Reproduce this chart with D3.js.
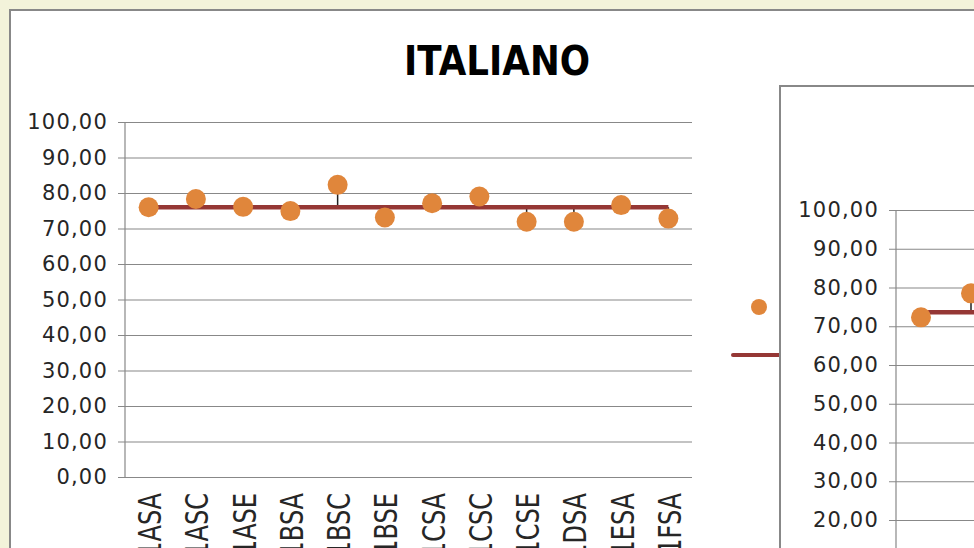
<!DOCTYPE html>
<html>
<head>
<meta charset="utf-8">
<script src="https://cdn.jsdelivr.net/npm/d3@7"></script>
<style>
  html, body { margin: 0; padding: 0; background: #f3f3da; }
  svg { display: block; }
  .tick text { font-family: "DejaVu Sans", sans-serif; fill: #262626; }
</style>
</head>
<body>
<svg id="chart1"></svg>
<script>
// data
let classi = ["1ASA", "1ASC", "1ASE", "1BSA", "1BSC", "1BSE", "1CSA", "1CSC", "1CSE", "1DSA", "1ESA", "1FSA"];
let italiano = [76.0, 78.3, 76.1, 74.9, 82.3, 73.1, 77.1, 79.0, 71.9, 71.9, 76.6, 72.8];
let mediaItaliano = 76.0;

// second chart, only the first points are visible in the picture
let secondaValori = [72.3, 78.5];
let secondaMedia = 73.6;

let yTicks = [0, 10, 20, 30, 40, 50, 60, 70, 80, 90, 100];
let fmt = (d) => d.toFixed(2).replace(".", ",");

let w = 974;
let h = 548;
let orange = "#e0863b";
let red = "#953735";
let gridCol = "#888888";

let svg = d3.select("#chart1").attr("width", w).attr("height", h);

// ---- first panel ----
svg.append("rect")
  .attr("x", 10).attr("y", 10)
  .attr("width", 1100).attr("height", 700)
  .attr("fill", "white")
  .attr("stroke", gridCol)
  .attr("stroke-width", 2);

svg.append("text")
  .attr("x", 497).attr("y", 75)
  .attr("text-anchor", "middle")
  .attr("font-family", "DejaVu Sans, sans-serif")
  .attr("font-weight", "bold")
  .attr("font-size", 41)
  .attr("textLength", 186)
  .attr("lengthAdjust", "spacingAndGlyphs")
  .attr("fill", "#000")
  .text("ITALIANO");

let xScale = d3.scaleBand().domain(classi).range([125, 692]);
let yScale = d3.scaleLinear().domain([0, 100]).range([477, 122]);

function drawY(g, scale, x0, x1) {
  let axis = d3.axisLeft(scale).tickValues(yTicks).tickFormat(fmt).tickSize(-(x1 - x0)).tickPadding(17);
  g.attr("transform", `translate(${x0},0)`).call(axis);
  g.select(".domain").remove();
  g.selectAll(".tick line").attr("stroke", gridCol).attr("stroke-width", 1.2).attr("x1", -7);
  g.selectAll(".tick text").attr("font-size", 21).attr("letter-spacing", 1.2);
  g.append("line")
    .attr("x1", 0).attr("x2", 0)
    .attr("y1", scale(100)).attr("y2", scale.range()[0])
    .attr("stroke", gridCol).attr("stroke-width", 1.2);
}

let yAxisGroup = svg.append("g");
drawY(yAxisGroup, yScale, 125, 692);

let xAxisGroup = svg.append("g")
  .attr("transform", `translate(0, 477)`)
  .call(d3.axisBottom(xScale).tickSize(0).tickPadding(0));
xAxisGroup.select(".domain").remove();
xAxisGroup.selectAll(".tick text")
  .attr("font-size", 24)
  .attr("text-anchor", "end")
  .attr("y", 0)
  .attr("dy", null)
  .attr("transform", "translate(12.5,16) rotate(-90) scale(1,1.35)");

let cx = (c) => xScale(c) + xScale.bandwidth() / 2;

// drop lines to the mean
svg.selectAll(".drop")
  .data(italiano)
  .enter()
  .append("line")
  .attr("class", "drop")
  .attr("x1", (d, i) => cx(classi[i]))
  .attr("x2", (d, i) => cx(classi[i]))
  .attr("y1", (d) => yScale(d))
  .attr("y2", yScale(mediaItaliano))
  .attr("stroke", "#222")
  .attr("stroke-width", 1.5);

svg.append("line")
  .attr("x1", cx(classi[0]))
  .attr("x2", cx(classi[classi.length - 1]))
  .attr("y1", yScale(mediaItaliano))
  .attr("y2", yScale(mediaItaliano))
  .attr("stroke", red)
  .attr("stroke-width", 4.5);

svg.selectAll(".dot")
  .data(italiano)
  .enter()
  .append("circle")
  .attr("class", "dot")
  .attr("cx", (d, i) => cx(classi[i]))
  .attr("cy", (d) => yScale(d))
  .attr("r", 10)
  .attr("fill", orange);

// legend of the first chart (mostly covered by the second panel)
svg.append("circle")
  .attr("cx", 759).attr("cy", 307)
  .attr("r", 8)
  .attr("fill", orange);
svg.append("line")
  .attr("x1", 733).attr("x2", 800)
  .attr("y1", 355).attr("y2", 355)
  .attr("stroke", red)
  .attr("stroke-width", 4)
  .attr("stroke-linecap", "round");

// ---- second panel ----
svg.append("rect")
  .attr("x", 780).attr("y", 86)
  .attr("width", 600).attr("height", 700)
  .attr("fill", "white")
  .attr("stroke", gridCol)
  .attr("stroke-width", 2);

let x2 = d3.scaleBand().domain(classi).range([896, 896 + 12 * 50]);
let y2 = d3.scaleLinear().domain([0, 100]).range([597.5, 210]);

let y2Group = svg.append("g");
drawY(y2Group, y2, 896, 1100);

let cx2 = (c) => x2(c) + x2.bandwidth() / 2;

svg.selectAll(".drop2")
  .data(secondaValori)
  .enter()
  .append("line")
  .attr("class", "drop2")
  .attr("x1", (d, i) => cx2(classi[i]))
  .attr("x2", (d, i) => cx2(classi[i]))
  .attr("y1", (d) => y2(d))
  .attr("y2", y2(secondaMedia))
  .attr("stroke", "#222")
  .attr("stroke-width", 1.5);

svg.append("line")
  .attr("x1", cx2(classi[0]))
  .attr("x2", 1100)
  .attr("y1", y2(secondaMedia))
  .attr("y2", y2(secondaMedia))
  .attr("stroke", red)
  .attr("stroke-width", 4.5);

svg.selectAll(".dot2")
  .data(secondaValori)
  .enter()
  .append("circle")
  .attr("class", "dot2")
  .attr("cx", (d, i) => cx2(classi[i]))
  .attr("cy", (d) => y2(d))
  .attr("r", 10)
  .attr("fill", orange);
</script>
</body>
</html>
